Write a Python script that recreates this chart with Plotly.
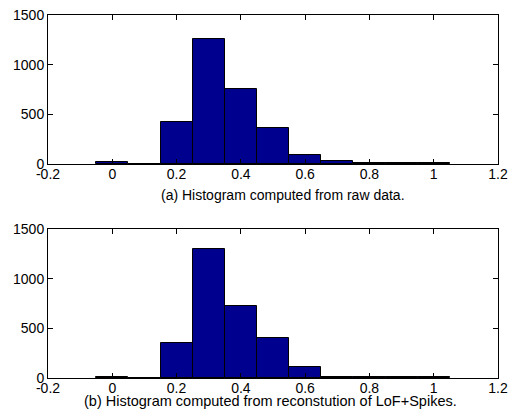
import plotly.graph_objects as go

bin_centers = [0.0, 0.1, 0.2, 0.3, 0.4, 0.5, 0.6, 0.7, 0.8, 0.9, 1.0]
counts_raw = [16, 3, 418, 1260, 752, 361, 94, 34, 10, 8, 10]
counts_rec = [14, 3, 357, 1298, 728, 401, 111, 12, 10, 10, 8]
x_ticks = [-0.2, 0, 0.2, 0.4, 0.6, 0.8, 1.0, 1.2]
x_tick_text = ["-0.2", "0", "0.2", "0.4", "0.6", "0.8", "1", "1.2"]
y_ticks = [0, 500, 1000, 1500]
captions = ["(a) Histogram computed from raw data.",
            "(b) Histogram computed from reconstution of LoF+Spikes."]

W, H = 513, 417
bar_color = "#00008F"
font = dict(family="Liberation Sans, Arial, sans-serif", size=14, color="black")

fig = go.Figure()
fig.add_trace(go.Bar(x=bin_centers, y=counts_raw, width=0.1, xaxis="x", yaxis="y",
                     marker=dict(color=bar_color, line=dict(color="black", width=1))))
fig.add_trace(go.Bar(x=bin_centers, y=counts_rec, width=0.1, xaxis="x2", yaxis="y2",
                     marker=dict(color=bar_color, line=dict(color="black", width=1))))

def xax(anchor):
    return dict(range=[-0.2, 1.2], tickvals=x_ticks, ticktext=x_tick_text,
                domain=[48 / W, 498 / W], anchor=anchor, showline=True, linecolor="black",
                linewidth=1, mirror="ticks", ticks="inside", ticklen=5, tickcolor="black",
                showgrid=False, zeroline=False, tickfont=font, automargin=False,
                ticklabelstandoff=-3)

def yax(anchor, top, bottom):
    return dict(range=[0, 1500], tickvals=y_ticks, domain=[1 - bottom / H, 1 - top / H],
                anchor=anchor, showline=True, linecolor="black", linewidth=1,
                mirror="ticks", ticks="inside", ticklen=5, tickcolor="black",
                showgrid=False, zeroline=False, tickfont=font, automargin=False,
                ticklabelstandoff=0)

fig.update_layout(
    width=W, height=H, margin=dict(l=0, r=0, t=0, b=0),
    paper_bgcolor="white", plot_bgcolor="white", showlegend=False, bargap=0,
    font=font,
    xaxis=xax("y"), yaxis=yax("x", 15, 164),
    xaxis2=xax("y2"), yaxis2=yax("x2", 229, 378),
    annotations=[
        dict(text=captions[0], x=283 / W, y=1 - 195 / H, xref="paper", yref="paper",
             showarrow=False, xanchor="center", yanchor="middle", font=dict(font, size=14)),
        dict(text=captions[1], x=270 / W, y=1 - 401 / H, xref="paper", yref="paper",
             showarrow=False, xanchor="center", yanchor="middle", font=dict(font, size=14.5)),
    ],
)
fig.write_html("out.html")
